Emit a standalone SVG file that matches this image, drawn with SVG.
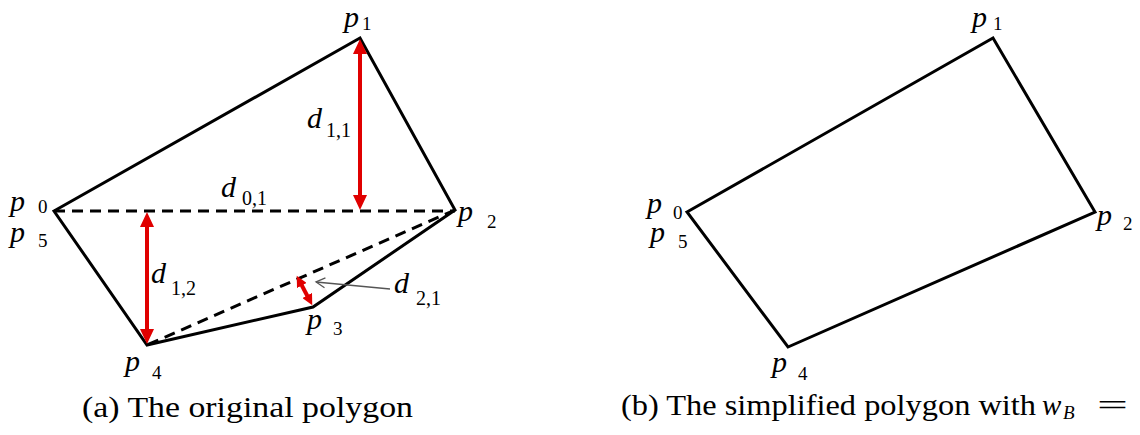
<svg xmlns="http://www.w3.org/2000/svg" width="1140" height="435" viewBox="0 0 1140 435">
<style>
.edge{stroke:#000;stroke-width:3;fill:none;stroke-linejoin:miter;stroke-linecap:butt}
.dash{stroke:#000;stroke-width:3;fill:none;stroke-dasharray:11 7}
.red{stroke:#e00000;stroke-width:4;fill:none}
.thin{stroke:#555;stroke-width:1.3;fill:none}
</style>
<defs>
<marker id="rh" markerUnits="userSpaceOnUse" markerWidth="16" markerHeight="14" viewBox="0 0 16 14" refX="6" refY="7" orient="auto-start-reverse">
<path d="M0,0 L15,7 L0,14 z" fill="#e00000"/>
</marker>
<marker id="rs" markerUnits="userSpaceOnUse" markerWidth="12" markerHeight="11" viewBox="0 0 12 11" refX="4" refY="5.5" orient="auto-start-reverse">
<path d="M0,0 L11,5.5 L0,11 z" fill="#e00000"/>
</marker>
<marker id="gh" markerUnits="userSpaceOnUse" markerWidth="12" markerHeight="12" viewBox="0 0 12 12" refX="10" refY="6" orient="auto">
<path d="M1,1 L10,6 L1,11" fill="none" stroke="#555" stroke-width="1.3"/>
</marker>
</defs>

<g id="connectors">
<polygon class="edge" points="54,211 360,38 455,210 313,307 147,345"/>
<line class="dash" x1="54" y1="211" x2="455" y2="211"/>
<line class="dash" x1="455" y1="210" x2="147" y2="345"/>
<line class="red" x1="360" y1="48" x2="360" y2="201" marker-start="url(#rh)" marker-end="url(#rh)"/>
<line class="red" x1="147" y1="221" x2="147" y2="335" marker-start="url(#rh)" marker-end="url(#rh)"/>
<line class="red" x1="300" y1="282" x2="309" y2="299" marker-start="url(#rs)" marker-end="url(#rs)"/>
<line class="thin" x1="390" y1="289" x2="316" y2="282" marker-end="url(#gh)"/>
<polygon class="edge" points="687,212 993,38 1095,212 788,347"/>
</g>

<g id="a-p1"><text font-family="Liberation Serif" font-style="italic" font-size="30" x="344" y="27">p</text><text font-family="Liberation Serif" font-size="19" x="362" y="30">1</text></g>
<g id="a-p0"><text font-family="Liberation Serif" font-style="italic" font-size="30" x="10" y="211">p</text><text font-family="Liberation Serif" font-size="19" x="38" y="213">0</text></g>
<g id="a-p5"><text font-family="Liberation Serif" font-style="italic" font-size="30" x="10" y="242">p</text><text font-family="Liberation Serif" font-size="19" x="38" y="247">5</text></g>
<g id="a-p2"><text font-family="Liberation Serif" font-style="italic" font-size="30" x="458" y="221">p</text><text font-family="Liberation Serif" font-size="19" x="487" y="228">2</text></g>
<g id="a-p3"><text font-family="Liberation Serif" font-style="italic" font-size="30" x="307" y="329">p</text><text font-family="Liberation Serif" font-size="19" x="333" y="335">3</text></g>
<g id="a-p4"><text font-family="Liberation Serif" font-style="italic" font-size="30" x="125" y="371">p</text><text font-family="Liberation Serif" font-size="19" x="152" y="379">4</text></g>

<g id="d11"><text font-family="Liberation Serif" font-style="italic" font-size="30" x="307" y="128">d</text><text font-family="Liberation Serif" font-size="20" x="326" y="137">1,1</text></g>
<g id="d01"><text font-family="Liberation Serif" font-style="italic" font-size="30" x="221" y="197">d</text><text font-family="Liberation Serif" font-size="20" x="242" y="205">0,1</text></g>
<g id="d12"><text font-family="Liberation Serif" font-style="italic" font-size="30" x="151" y="283">d</text><text font-family="Liberation Serif" font-size="20" x="171" y="295">1,2</text></g>
<g id="d21"><text font-family="Liberation Serif" font-style="italic" font-size="30" x="394" y="293">d</text><text font-family="Liberation Serif" font-size="20" x="416" y="305">2,1</text></g>

<g id="b-p1"><text font-family="Liberation Serif" font-style="italic" font-size="30" x="972" y="27">p</text><text font-family="Liberation Serif" font-size="19" x="993" y="30">1</text></g>
<g id="b-p0"><text font-family="Liberation Serif" font-style="italic" font-size="30" x="647" y="213">p</text><text font-family="Liberation Serif" font-size="19" x="673" y="219">0</text></g>
<g id="b-p5"><text font-family="Liberation Serif" font-style="italic" font-size="30" x="650" y="242">p</text><text font-family="Liberation Serif" font-size="19" x="678" y="248">5</text></g>
<g id="b-p2"><text font-family="Liberation Serif" font-style="italic" font-size="30" x="1097" y="225">p</text><text font-family="Liberation Serif" font-size="19" x="1123" y="230">2</text></g>
<g id="b-p4"><text font-family="Liberation Serif" font-style="italic" font-size="30" x="772" y="372">p</text><text font-family="Liberation Serif" font-size="19" x="798" y="380">4</text></g>

<g id="caption-a"><text font-family="Liberation Serif" font-size="29" x="82" y="417" textLength="331" lengthAdjust="spacingAndGlyphs">(a) The original polygon</text></g>
<g id="caption-b">
<text font-family="Liberation Serif" font-size="29" x="621" y="415" textLength="415" lengthAdjust="spacingAndGlyphs">(b) The simplified polygon with</text>
<text font-family="Liberation Serif" font-style="italic" font-size="29" x="1042" y="415">w</text>
<text font-family="Liberation Serif" font-style="italic" font-size="19" x="1063" y="419">B</text>
<text font-family="Liberation Serif" font-size="29" x="1097" y="415" textLength="31" lengthAdjust="spacingAndGlyphs">=</text>
</g>
</svg>
